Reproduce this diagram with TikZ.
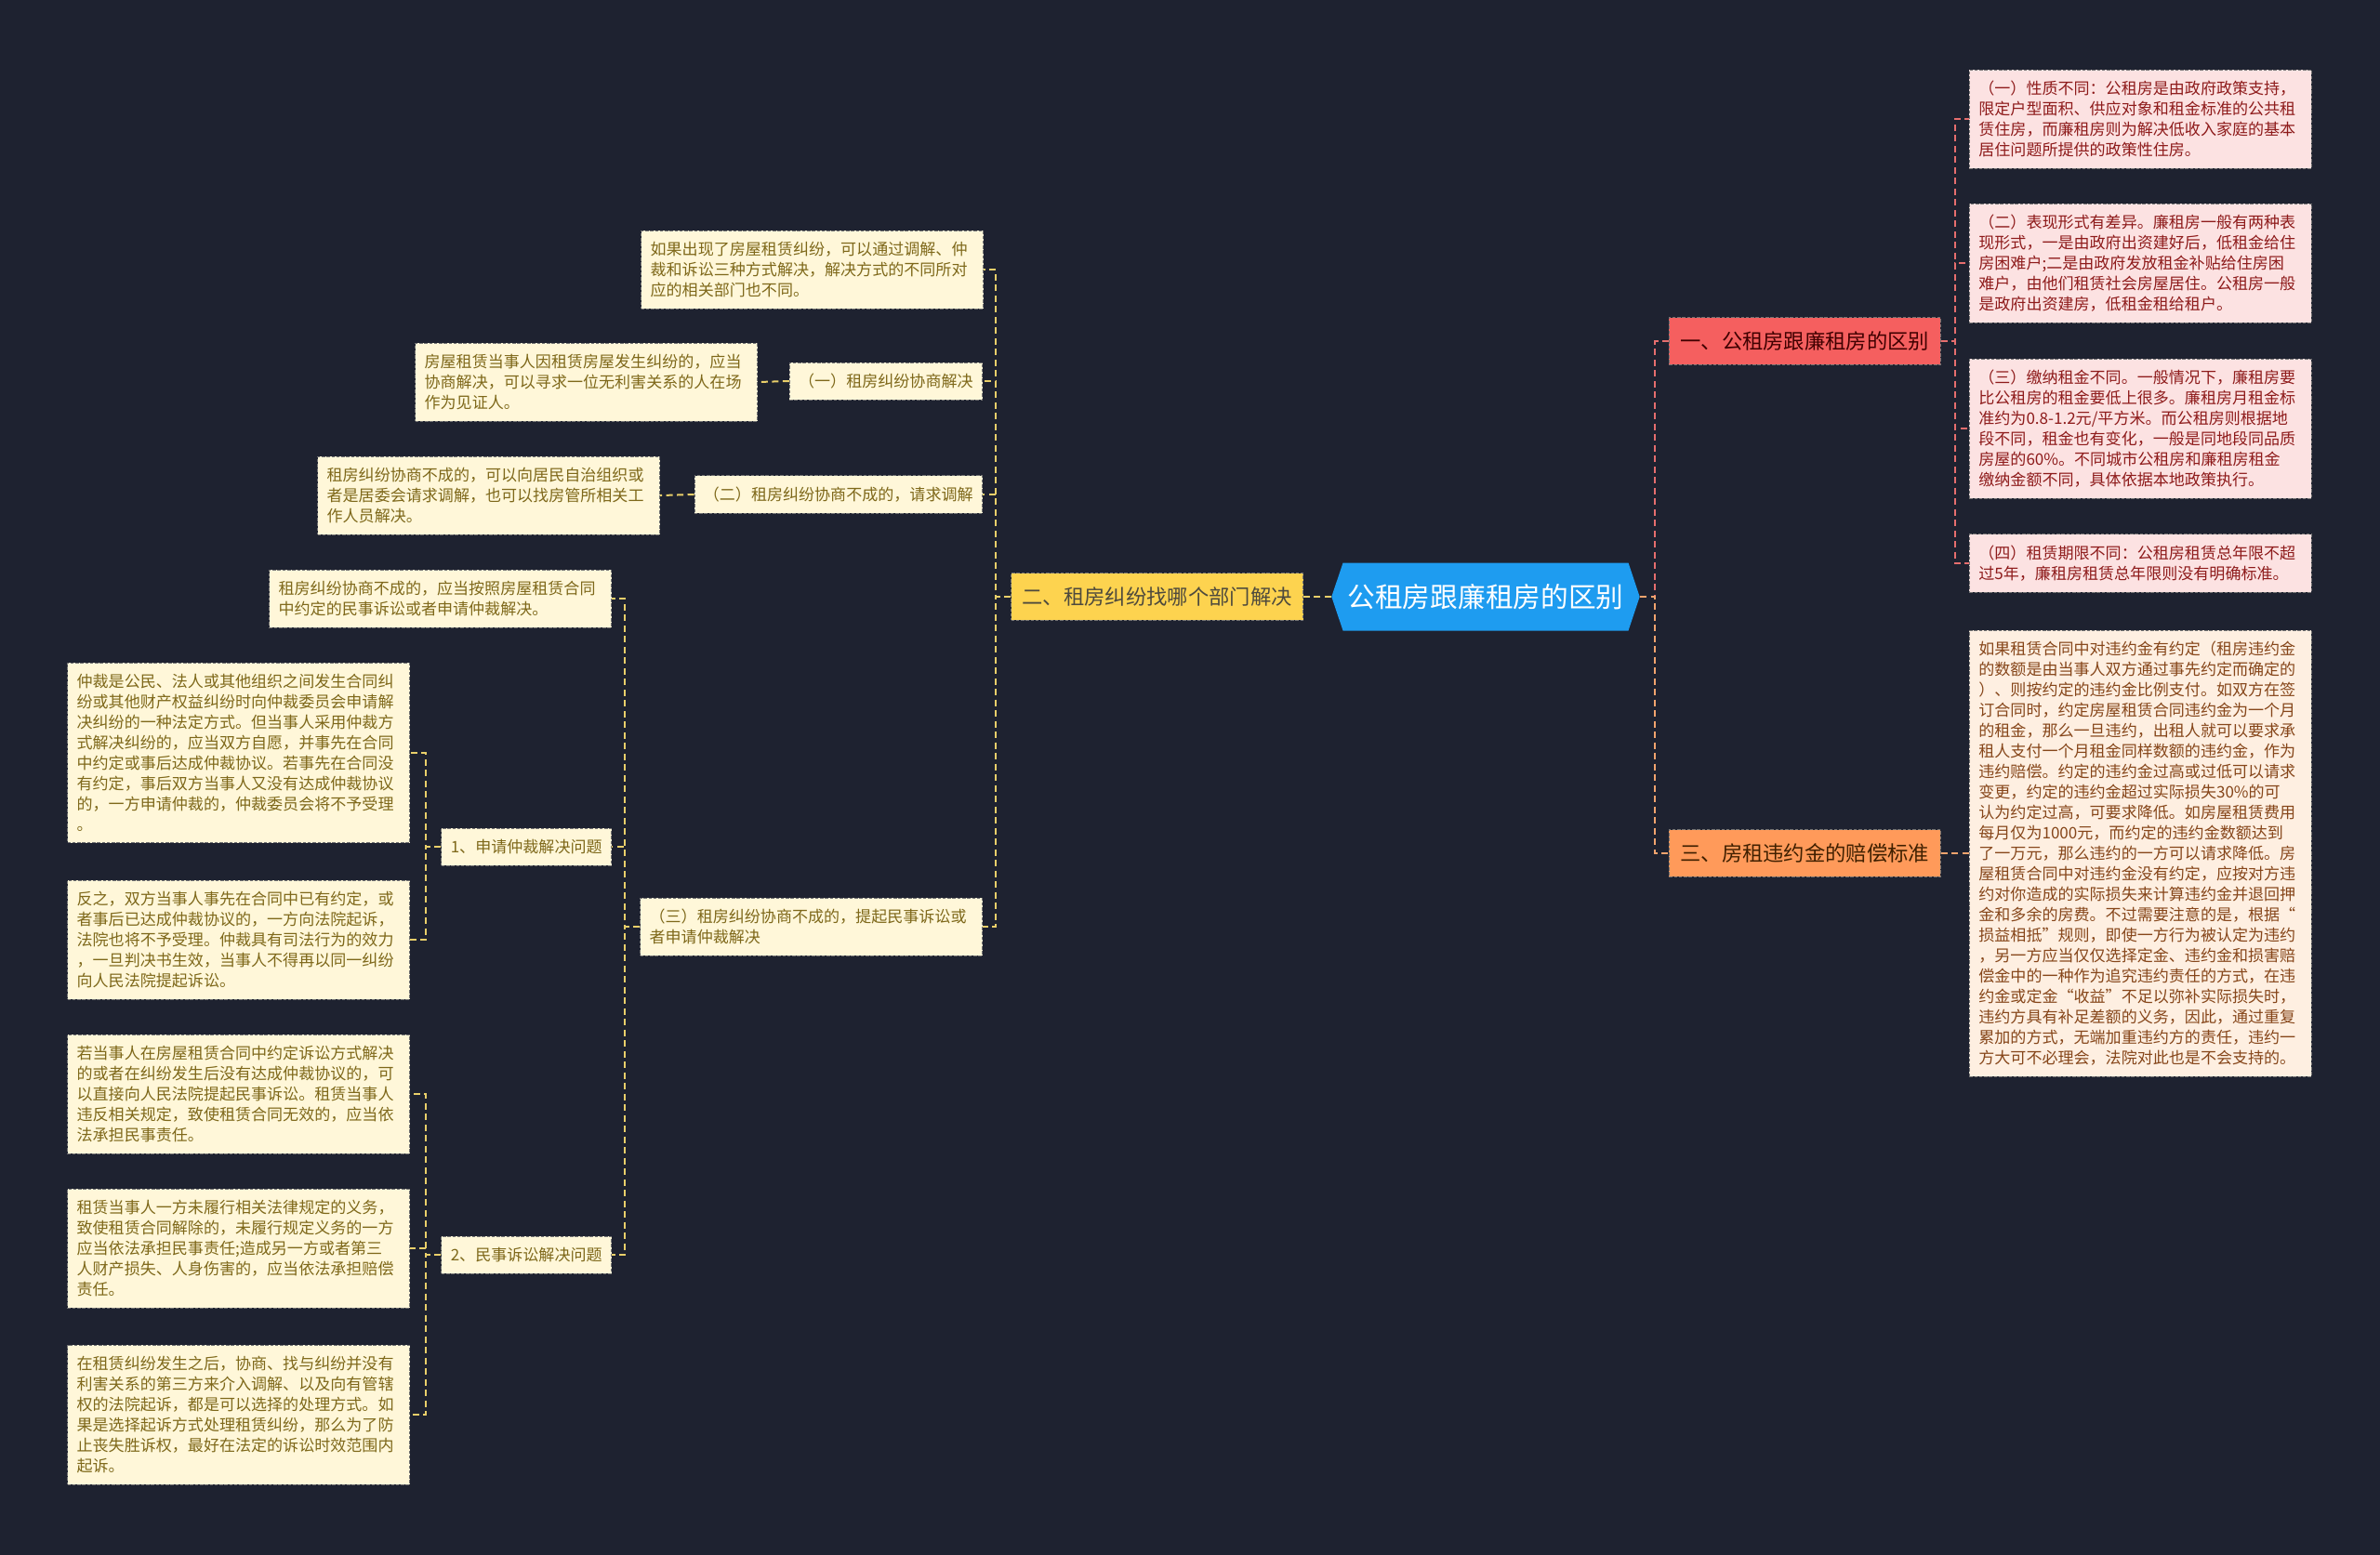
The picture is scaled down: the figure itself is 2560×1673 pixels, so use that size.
\documentclass[tikz,border=0pt]{standalone}
\usepackage{fontspec}
\setmainfont{Noto Sans CJK SC}
\usetikzlibrary{shapes.symbols}
\definecolor{bgc}{HTML}{1E2230}
\definecolor{leafy}{HTML}{FFF7D9}
\definecolor{leaft}{HTML}{7E681A}
\definecolor{pinkf}{HTML}{FCE2E2}
\definecolor{pinkt}{HTML}{8E1B1B}
\definecolor{peachf}{HTML}{FEEFE1}
\definecolor{peacht}{HTML}{86461A}
\definecolor{rootc}{HTML}{1E9CF0}
\definecolor{bred}{HTML}{F55F5F}
\definecolor{byel}{HTML}{FDD34F}
\definecolor{borg}{HTML}{FF9A5A}
\definecolor{lyel}{HTML}{E9CF6A}
\definecolor{lred}{HTML}{E66E6E}
\definecolor{lorg}{HTML}{F2A46E}

\begin{document}
\begin{tikzpicture}[x=0.2mm,y=-0.2mm,
 lf/.style={draw=black!55,dash pattern=on 2pt off 1pt,line width=0.4pt,fill=leafy,text=leaft,
 font=\fontsize{9.7pt}{12.5pt}\selectfont,align=left,inner xsep=2mm,inner ysep=2.4mm},
 leaf/.style={lf,text width=69.6mm},
 pk/.style={leaf,fill=pinkf,text=pinkt},
 pc/.style={leaf,fill=peachf,text=peacht},
 br/.style={draw=black!55,dash pattern=on 2pt off 1pt,line width=0.4pt,
 font=\fontsize{12.7pt}{14pt}\selectfont,inner xsep=2.4mm,inner ysep=3mm},
 root/.style={shape=signal,signal to=west and east,signal pointer angle=143,fill=rootc,
 text=white,font=\fontsize{16.9pt}{18pt}\selectfont,minimum width=66mm,minimum height=14.6mm,inner xsep=1mm},
 lk/.style={line width=0.4mm,dash pattern=on 1.4mm off 0.9mm}]
\useasboundingbox (0,0) rectangle (2560,1673);
\fill[bgc] (0,0) rectangle (2560,1673);
% centre and main branches
\node[root] (c) at (1598,642) {公租房跟廉租房的区别};
\node[br,fill=bred,text=black!75!red,anchor=west] (b1) at (1795,367) {一、公租房跟廉租房的区别};
\node[br,fill=byel,text=black!80!yellow,anchor=east] (b2) at (1402,642) {二、租房纠纷找哪个部门解决};
\node[br,fill=borg,text=black!75!orange,anchor=west] (b3) at (1795,918) {三、房租违约金的赔偿标准};
% right side
\node[pk,anchor=west] (r1) at (2118,128) {（一）性质不同：公租房是由政府政策支持，\\限定户型面积、供应对象和租金标准的公共租\\赁住房，而廉租房则为解决低收入家庭的基本\\居住问题所提供的政策性住房。};
\node[pk,anchor=west] (r2) at (2118,283) {（二）表现形式有差异。廉租房一般有两种表\\现形式，一是由政府出资建好后，低租金给住\\房困难户;二是由政府发放租金补贴给住房困\\难户，由他们租赁社会房屋居住。公租房一般\\是政府出资建房，低租金租给租户。};
\node[pk,anchor=west] (r3) at (2118,461) {（三）缴纳租金不同。一般情况下，廉租房要\\比公租房的租金要低上很多。廉租房月租金标\\准约为0.8-1.2元/平方米。而公租房则根据地\\段不同，租金也有变化，一般是同地段同品质\\房屋的60\%。不同城市公租房和廉租房租金\\缴纳金额不同，具体依据本地政策执行。};
\node[pk,anchor=west] (r4) at (2118,606) {（四）租赁期限不同：公租房租赁总年限不超\\过5年，廉租房租赁总年限则没有明确标准。};
\node[pc,anchor=west] (r5) at (2118,918) {如果租赁合同中对违约金有约定（租房违约金\\的数额是由当事人双方通过事先约定而确定的\\）、则按约定的违约金比例支付。如双方在签\\订合同时，约定房屋租赁合同违约金为一个月\\的租金，那么一旦违约，出租人就可以要求承\\租人支付一个月租金同样数额的违约金，作为\\违约赔偿。约定的违约金过高或过低可以请求\\变更，约定的违约金超过实际损失30\%的可\\认为约定过高，可要求降低。如房屋租赁费用\\每月仅为1000元，而约定的违约金数额达到\\了一万元，那么违约的一方可以请求降低。房\\屋租赁合同中对违约金没有约定，应按对方违\\约对你造成的实际损失来计算违约金并退回押\\金和多余的房费。不过需要注意的是，根据“\\损益相抵”规则，即使一方行为被认定为违约\\，另一方应当仅仅选择定金、违约金和损害赔\\偿金中的一种作为追究违约责任的方式，在违\\约金或定金“收益”不足以弥补实际损失时，\\违约方具有补足差额的义务，因此，通过重复\\累加的方式，无端加重违约方的责任，违约一\\方大可不必理会，法院对此也是不会支持的。};
% left side
\node[leaf,anchor=east] (l0) at (1058,290) {如果出现了房屋租赁纠纷，可以通过调解、仲\\裁和诉讼三种方式解决，解决方式的不同所对\\应的相关部门也不同。};
\node[lf,anchor=east] (n1) at (1057,410) {（一）租房纠纷协商解决};
\node[leaf,anchor=east] (n1l) at (815,411) {房屋租赁当事人因租赁房屋发生纠纷的，应当\\协商解决，可以寻求一位无利害关系的人在场\\作为见证人。};
\node[lf,anchor=east] (n2) at (1057,532) {（二）租房纠纷协商不成的，请求调解};
\node[leaf,anchor=east] (n2l) at (710,533) {租房纠纷协商不成的，可以向居民自治组织或\\者是居委会请求调解，也可以找房管所相关工\\作人员解决。};
\node[leaf,anchor=east] (n3) at (1057,997) {（三）租房纠纷协商不成的，提起民事诉讼或\\者申请仲裁解决};
\node[leaf,anchor=east] (n3l) at (658,644) {租房纠纷协商不成的，应当按照房屋租赁合同\\中约定的民事诉讼或者申请仲裁解决。};
\node[lf,anchor=east] (m1) at (658,911) {1、申请仲裁解决问题};
\node[leaf,anchor=east] (la) at (441,810) {仲裁是公民、法人或其他组织之间发生合同纠\\纷或其他财产权益纠纷时向仲裁委员会申请解\\决纠纷的一种法定方式。但当事人采用仲裁方\\式解决纠纷的，应当双方自愿，并事先在合同\\中约定或事后达成仲裁协议。若事先在合同没\\有约定，事后双方当事人又没有达成仲裁协议\\的，一方申请仲裁的，仲裁委员会将不予受理\\。};
\node[leaf,anchor=east] (lb) at (441,1011) {反之，双方当事人事先在合同中已有约定，或\\者事后已达成仲裁协议的，一方向法院起诉，\\法院也将不予受理。仲裁具有司法行为的效力\\，一旦判决书生效，当事人不得再以同一纠纷\\向人民法院提起诉讼。};
\node[lf,anchor=east] (m2) at (658,1350) {2、民事诉讼解决问题};
\node[leaf,anchor=east] (lc) at (441,1177) {若当事人在房屋租赁合同中约定诉讼方式解决\\的或者在纠纷发生后没有达成仲裁协议的，可\\以直接向人民法院提起民事诉讼。租赁当事人\\违反相关规定，致使租赁合同无效的，应当依\\法承担民事责任。};
\node[leaf,anchor=east] (ld) at (441,1343) {租赁当事人一方未履行相关法律规定的义务，\\致使租赁合同解除的，未履行规定义务的一方\\应当依法承担民事责任;造成另一方或者第三\\人财产损失、人身伤害的，应当依法承担赔偿\\责任。};
\node[leaf,anchor=east] (le) at (441,1522) {在租赁纠纷发生之后，协商、找与纠纷并没有\\利害关系的第三方来介入调解、以及向有管辖\\权的法院起诉，都是可以选择的处理方式。如\\果是选择起诉方式处理租赁纠纷，那么为了防\\止丧失胜诉权，最好在法定的诉讼时效范围内\\起诉。};
% links
\draw[lk,lred] (c.east) -- ++(16,0) |- (b1.west);
\draw[lk,lorg] (c.east) -- ++(16,0) |- (b3.west);
\foreach \n in {r1,r2,r3,r4} \draw[lk,lred] (b1.east) -- ++(15,0) |- (\n.west);
\draw[lk,lorg] (b3.east) -- (r5.west);
\draw[lk,lyel] (c.west) -- (b2.east);
\foreach \n in {l0,n1,n2,n3} \draw[lk,lyel] (b2.west) -- ++(-16,0) |- (\n.east);
\draw[lk,lyel] (n1.west) -- (n1l.east);
\draw[lk,lyel] (n2.west) -- (n2l.east);
\foreach \n in {n3l,m1,m2} \draw[lk,lyel] (n3.west) -- ++(-16,0) |- (\n.east);
\foreach \n in {la,lb} \draw[lk,lyel] (m1.west) -- ++(-16,0) |- (\n.east);
\foreach \n in {lc,ld,le} \draw[lk,lyel] (m2.west) -- ++(-16,0) |- (\n.east);
\end{tikzpicture}
\end{document}
